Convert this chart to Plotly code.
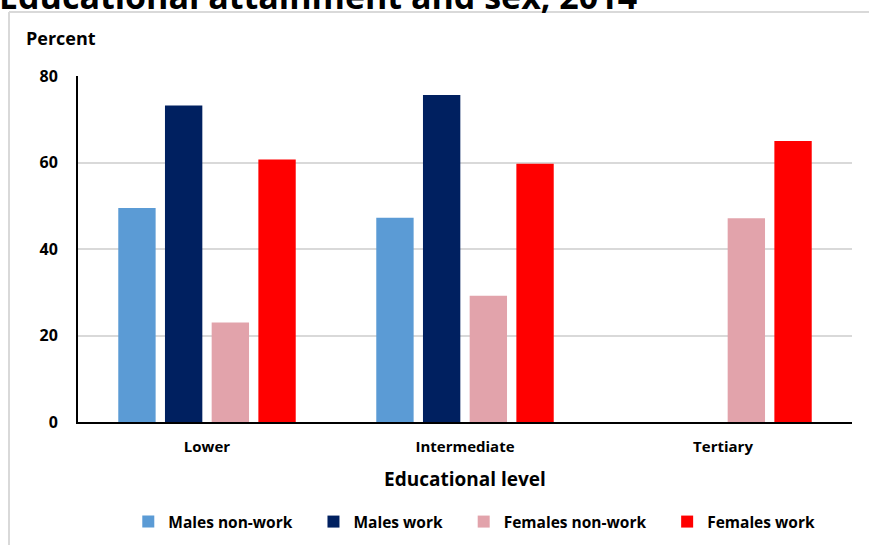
import plotly.graph_objects as go

categories = ["Lower", "Intermediate", "Tertiary"]
males_nonwork = [49.5, 47.2, None]
males_work = [73.2, 75.6, None]
females_nonwork = [23.0, 29.2, 47.1]
females_work = [60.7, 59.7, 65.0]

series_names = ["Males non-work", "Males work", "Females non-work", "Females work"]
series_values = [males_nonwork, males_work, females_nonwork, females_work]
series_colors = ["#5B9BD5", "#002060", "#E2A3AB", "#FF0000"]

y_ticks = [0, 20, 40, 60, 80]

W, H = 869, 545
L, R, T, B = 78, 17, 76, 123

FONT = "Open Sans"
PAD = "\u00a0" * 4

fig = go.Figure()
for i, (name, vals, col) in enumerate(zip(series_names, series_values, series_colors)):
    label = name + (PAD if i < len(series_names) - 1 else "")
    fig.add_trace(go.Bar(
        x=categories, y=vals, name=label,
        marker=dict(color=col, line=dict(width=0)),
    ))

fig.update_layout(
    width=W, height=H,
    margin=dict(l=L, r=R, t=T, b=B, pad=0, autoexpand=False),
    paper_bgcolor="white", plot_bgcolor="white",
    barmode="group", bargap=0.276, bargroupgap=0.2,
    font=dict(family=FONT, size=14, color="black", weight="bold"),
    showlegend=True,
    legend=dict(
        orientation="h", x=0.512, xanchor="center",
        yref="container", y=(H - 505) / H, yanchor="top",
        font=dict(family=FONT, size=15.5, color="black", weight="bold"),
        itemsizing="constant", itemwidth=30, traceorder="normal",
    ),
    xaxis=dict(
        showline=True, linecolor="black", linewidth=2, automargin=False,
        ticks="", ticklabelstandoff=10,
        tickfont=dict(family=FONT, size=15, weight="bold"),
        title=dict(text="Educational level", standoff=18,
                   font=dict(family=FONT, size=19, weight="bold")),
    ),
    yaxis=dict(
        range=[0, 80], tickvals=y_ticks, ticktext=[str(v) for v in y_ticks],
        showline=True, linecolor="black", linewidth=2, automargin=False,
        showgrid=True, gridcolor="#D9D9D9", gridwidth=2,
        zeroline=False, ticks="", ticklabelstandoff=15,
        tickfont=dict(family=FONT, size=16, weight="bold"),
    ),
)

plot_w = W - L - R
plot_h = H - T - B

def px_x(p):
    return (p - L) / plot_w

def px_y(p):
    return (H - B - p) / plot_h

# Frame border (left and top)
fig.add_shape(type="line", xref="paper", yref="paper",
              x0=px_x(9), x1=px_x(9), y0=px_y(12), y1=px_y(H + 5),
              line=dict(color="#D9D9D9", width=2))
fig.add_shape(type="line", xref="paper", yref="paper",
              x0=px_x(9), x1=px_x(W + 5), y0=px_y(12), y1=px_y(12),
              line=dict(color="#D9D9D9", width=2))

# Chart title (cropped at the top edge, as in the source)
fig.add_annotation(text="Educational attainment and sex, 2014", xref="paper", yref="paper",
                   x=px_x(-3), y=px_y(21), xanchor="left", yanchor="bottom",
                   showarrow=False,
                   font=dict(family=FONT, size=34, color="black", weight="bold"))

# "Percent" label
fig.add_annotation(text="Percent", xref="paper", yref="paper",
                   x=px_x(24), y=px_y(38), xanchor="left", yanchor="middle",
                   showarrow=False,
                   font=dict(family=FONT, size=18, color="black", weight="bold"))

fig.write_html("out.html")
